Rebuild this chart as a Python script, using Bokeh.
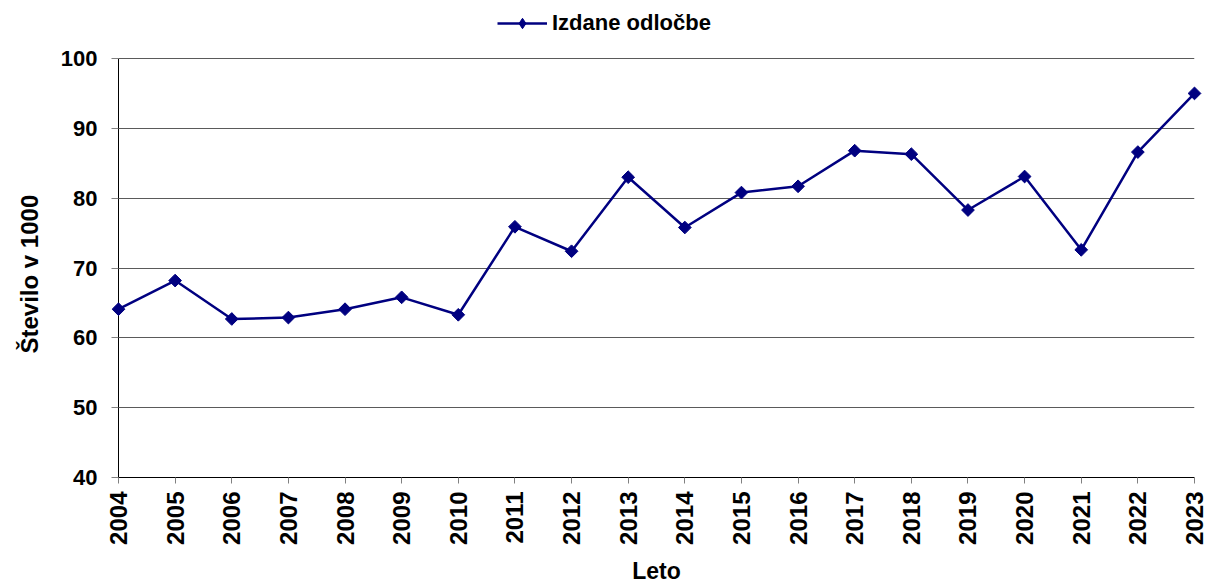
import math
from bokeh.plotting import figure
from bokeh.models import Range1d, FixedTicker, Legend, LegendItem, Title
from bokeh.embed import file_html
from bokeh.resources import INLINE

years = [2004, 2005, 2006, 2007, 2008, 2009, 2010, 2011, 2012, 2013,
         2014, 2015, 2016, 2017, 2018, 2019, 2020, 2021, 2022, 2023]
izdane_odlocbe = [64.1, 68.2, 62.7, 62.9, 64.1, 65.8, 63.3, 75.9, 72.4, 83.0,
                  75.8, 80.8, 81.7, 86.8, 86.3, 78.3, 83.1, 72.6, 86.6, 95.0]
y_ticks = [40, 50, 60, 70, 80, 90, 100]
series_name = "Izdane odločbe"
x_title = "Leto"
y_title = "Število v 1000"

FONT = "Liberation Sans"
NAVY = "#000080"

# layout: plot area from y=58px to y=477px; the frame extends up to the top edge
# so that the legend above the plot area stays inside the frame
FRAME_TOP_PAD = 58
PLOT_H = 419
y_lo, y_hi = y_ticks[0], y_ticks[-1]
y_top = y_lo + (y_hi - y_lo) * (PLOT_H + FRAME_TOP_PAD) / PLOT_H

p = figure(width=1206, height=586, output_backend="svg", toolbar_location=None,
           x_range=Range1d(years[0], years[-1]), y_range=Range1d(y_lo, y_top),
           min_border_left=118, min_border_right=12, min_border_top=0, min_border_bottom=109)
p.outline_line_color = None
p.background_fill_color = "white"
p.border_fill_color = "white"

ln = p.line(years, izdane_odlocbe, line_color=NAVY, line_width=2.5, level="overlay")
# small diamonds hidden under the markers: they give the legend its diamond symbol
leg_marker = p.scatter(years, izdane_odlocbe, marker="diamond", size=9,
                       fill_color=NAVY, line_color=NAVY)
sc = p.scatter(years, izdane_odlocbe, marker="square", size=9, angle=math.pi / 4,
               fill_color=NAVY, line_color=NAVY, level="overlay")

# axes
p.xaxis.ticker = FixedTicker(ticks=years)
p.yaxis.ticker = FixedTicker(ticks=y_ticks)
p.yaxis.bounds = (y_lo, y_hi)
for ax in (p.xaxis[0], p.yaxis[0]):
    ax.axis_line_color = "black"
    ax.axis_line_width = 1
    ax.major_tick_line_color = "#808080"
    ax.major_tick_in = 0
    ax.minor_tick_line_color = None
    ax.major_label_text_font = FONT
    ax.major_label_text_font_style = "bold"
    ax.major_label_text_color = "black"
    ax.axis_label_text_font = FONT
    ax.axis_label_text_font_style = "bold"
    ax.axis_label_text_color = "black"
    ax.axis_label_text_font_size = "23px"

p.xaxis.major_tick_out = 6
p.xaxis.major_label_orientation = math.pi / 2
p.xaxis.major_label_text_font_size = "24px"
p.xaxis.major_label_standoff = 8
p.xaxis.axis_label = x_title
p.xaxis.axis_label_standoff = 10

p.yaxis.major_tick_out = 7
p.yaxis.major_label_text_font_size = "22px"
p.yaxis.major_label_standoff = 14
p.yaxis.axis_label = None

# y-axis title, placed along the plot area (58..477 px)
ytitle = Title(text=y_title, align="left", offset=124, vertical_align="top", standoff=26,
               text_font=FONT, text_font_style="bold", text_font_size="24px",
               text_color="black")
p.add_layout(ytitle, "left")

p.xgrid.grid_line_color = None
p.ygrid.grid_line_color = "#5a5a5a"
p.ygrid.grid_line_width = 1

legend = Legend(items=[LegendItem(label=series_name, renderers=[ln, leg_marker])],
                location=(379, 441), orientation="horizontal",
                label_text_font=FONT, label_text_font_style="bold",
                label_text_font_size="22px", label_text_color="black",
                glyph_width=50, glyph_height=26, label_height=24, label_standoff=5,
                padding=0, margin=0, border_line_color=None, background_fill_alpha=0)
p.add_layout(legend, "center")

open("out.html", "w").write(file_html(p, INLINE))
